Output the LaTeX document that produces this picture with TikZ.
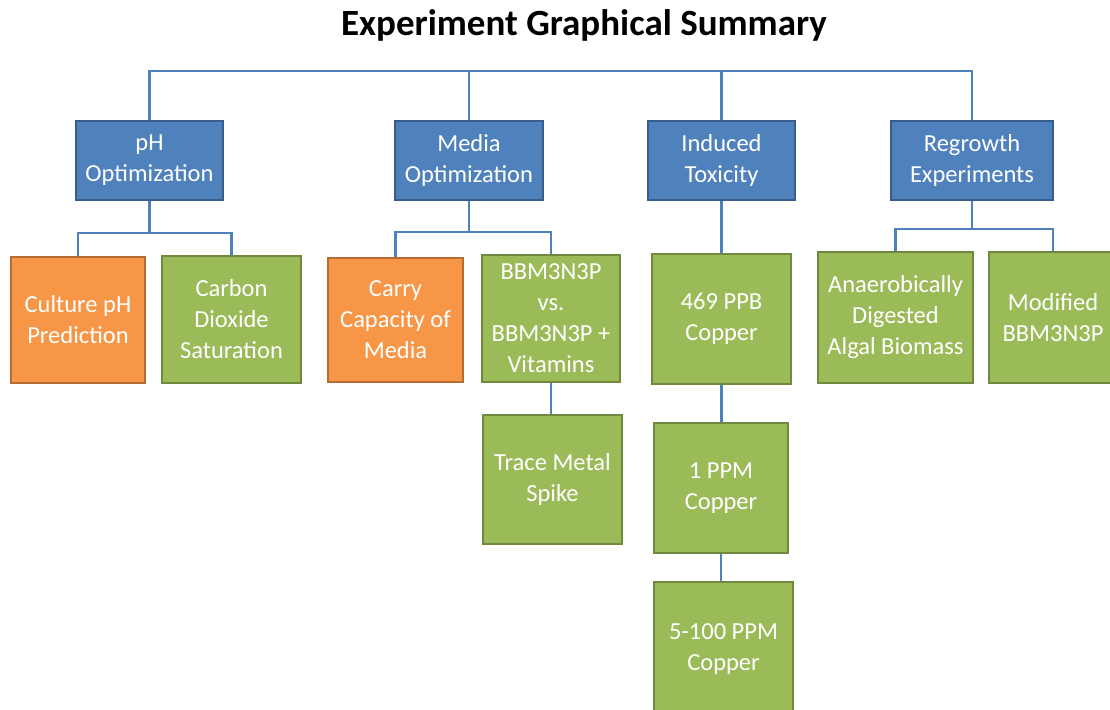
\documentclass[tikz,border=0pt]{standalone}
\usepackage{fontspec}
\setmainfont{Carlito}
\usepackage{tikz}
\usetikzlibrary{calc,positioning,backgrounds}

\definecolor{topicblue}{HTML}{4F81BD}
\definecolor{topicedge}{HTML}{385D8A}
\definecolor{taskorange}{HTML}{F79646}
\definecolor{taskedge}{HTML}{B66D31}
\definecolor{testgreen}{HTML}{9BBB59}
\definecolor{testedge}{HTML}{71893F}

\begin{document}
\begin{tikzpicture}[x=1pt,y=-1pt,
  box/.style={anchor=north west,inner sep=0pt,align=center,text=white,
    line width=2pt,font=\fontsize{24.5}{31}\selectfont},
  topic/.style={box,fill=topicblue,draw=topicedge},
  task/.style={box,fill=taskorange,draw=taskedge},
  test/.style={box,fill=testgreen,draw=testedge},
  link/.style={draw=topicblue,line width=2.5pt}]
\clip (0,0) rectangle (1110,709);

\node[anchor=base] (title) at (584,36) {\fontsize{37}{40}\selectfont\bfseries Experiment Graphical Summary};

% main branches
\node[topic,minimum width=147pt,minimum height=79pt] (ph) at (75,120) {pH\\Optimization};
\node[topic,minimum width=148pt,minimum height=79pt] (media) at (394,120) {Media\\Optimization};
\node[topic,minimum width=147pt,minimum height=79pt] (induced) at (647,120) {Induced\\Toxicity};
\node[topic,minimum width=162pt,minimum height=79pt] (regrowth) at (890,120) {Regrowth\\Experiments};

% pH optimization
\node[task,minimum width=134pt,minimum height=126pt] (culture) at (10,256) {Culture pH\\Prediction};
\node[test,minimum width=139pt,minimum height=127pt] (carbon) at (161,255) {Carbon\\Dioxide\\Saturation};

% media optimization
\node[task,minimum width=135pt,minimum height=124pt] (carry) at (327,257) {Carry\\Capacity of\\Media};
\node[test,minimum width=138pt,minimum height=127pt] (bbm) at (481,254) {BBM3N3P\\vs.\\BBM3N3P +\\Vitamins};
\node[test,minimum width=139pt,minimum height=129pt] (trace) at (482,414) {Trace Metal\\Spike};

% induced toxicity
\node[test,minimum width=139pt,minimum height=130pt] (ppb) at (651,253) {469 PPB\\Copper};
\node[test,minimum width=134pt,minimum height=130pt] (ppm1) at (653,422) {1 PPM\\Copper};
\node[test,minimum width=139pt,minimum height=135pt] (ppm5) at (653,581) {5-100 PPM\\Copper};

% regrowth experiments
\node[test,minimum width=155pt,minimum height=131pt] (anaer) at (817,251) {Anaerobically\\Digested\\Algal Biomass};
\node[test,minimum width=128pt,minimum height=131pt] (modified) at (988,251) {Modified\\BBM3N3P};

\coordinate (top) at (0,71);
\begin{scope}[on background layer]
\fill[white] (0,0) rectangle (1110,709);
\draw[link] (ph.north) -- (ph.north |- top) -| (regrowth.north);
\draw[link] (media.north) -- (media.north |- top);
\draw[link] (induced.north) -- (induced.north |- top);

\draw[link] (ph.south) -- ($(ph.south)+(0,32)$) coordinate (phbar)
  (culture.north) |- (phbar) -| (carbon.north);
\draw[link] (media.south) -- ($(media.south)+(0,31)$) coordinate (mediabar)
  (carry.north) |- (mediabar) -| (bbm.north);
\draw[link] (regrowth.south) -- ($(regrowth.south)+(0,28)$) coordinate (regbar)
  (anaer.north) |- (regbar) -| (modified.north);

\draw[link] (induced.south) -- (ppb.north);
\draw[link] (ppb.south) -- (ppb.south |- ppm1.north);
\draw[link] (ppm1.south) -- (ppm1.south |- ppm5.north);
\draw[link] (bbm.south) -- (bbm.south |- trace.north);
\end{scope}
\end{tikzpicture}
\end{document}
